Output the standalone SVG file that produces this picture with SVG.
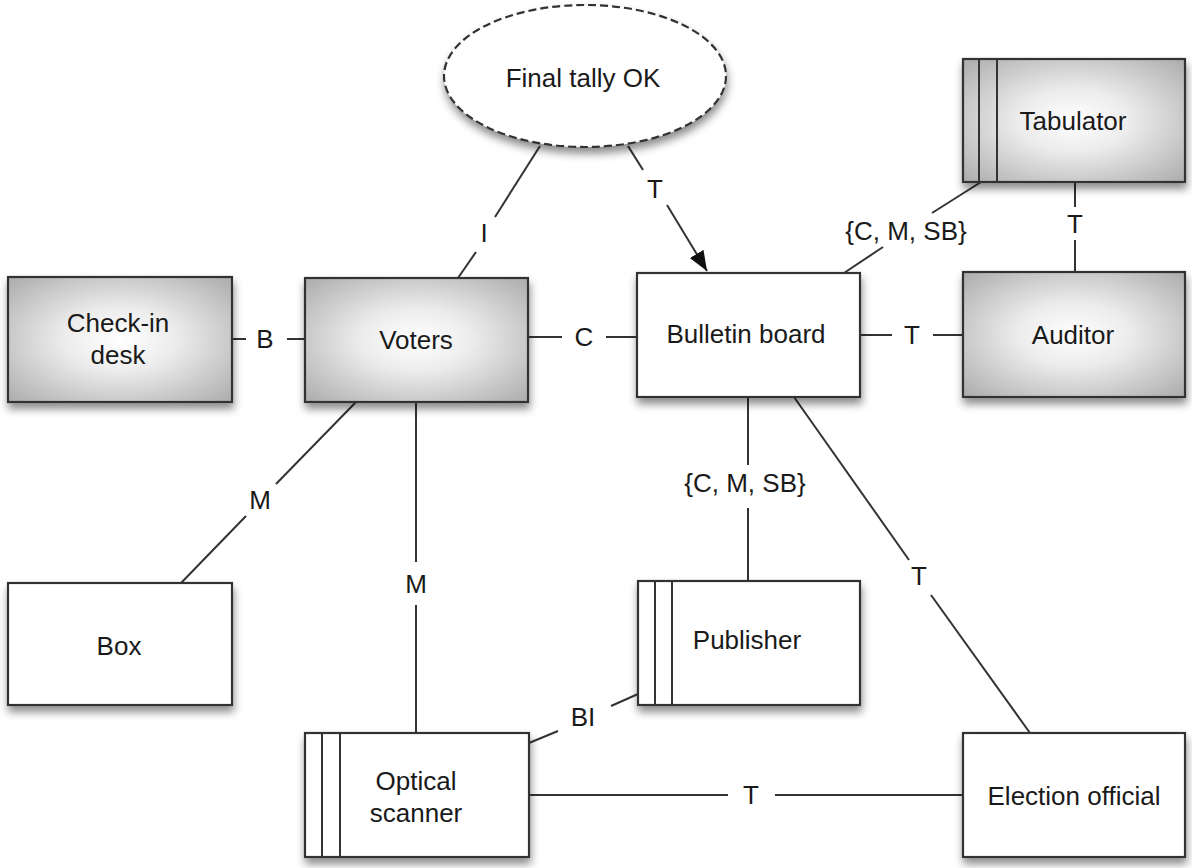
<svg xmlns="http://www.w3.org/2000/svg" width="1192" height="868" viewBox="0 0 1192 868">
<defs>
<style>
.box{stroke:#333;stroke-width:2.2;}
.plain{fill:#fff;}
.shade{fill:url(#grad);}
.stripe{stroke:#333;stroke-width:2;fill:none;}
.ln{stroke:#333;stroke-width:2;fill:none;}
.t{font-family:"Liberation Sans",Arial,Helvetica,sans-serif;font-size:26px;fill:#1a1a1a;text-anchor:middle;}
</style>
<radialGradient id="grad" cx="50%" cy="50%" r="72%">
<stop offset="0" stop-color="#ffffff"/>
<stop offset="0.35" stop-color="#ececec"/>
<stop offset="1" stop-color="#a9a9a9"/>
</radialGradient>
<filter id="sh" x="-20%" y="-20%" width="140%" height="150%">
<feDropShadow dx="1" dy="6" stdDeviation="4" flood-color="#000" flood-opacity="0.45"/>
</filter>
<marker id="arr" markerWidth="22" markerHeight="18" refX="20" refY="9" orient="auto" markerUnits="userSpaceOnUse">
<path d="M0,1 L20,9 L0,17 Z" fill="#111"/>
</marker>
</defs>
<rect width="1192" height="868" fill="#fff"/>

<g id="connectors">
<!-- I: ellipse - voters -->
<line class="ln" x1="540" y1="146" x2="495" y2="217"/>
<line class="ln" x1="476" y1="252" x2="458" y2="278"/>
<text class="t" x="484" y="242">I</text>
<!-- T arrow: ellipse - bulletin -->
<line class="ln" x1="628" y1="146" x2="643" y2="170"/>
<line class="ln" x1="667" y1="205" x2="707" y2="271" marker-end="url(#arr)"/>
<text class="t" x="655" y="198">T</text>
<!-- B -->
<line class="ln" x1="232" y1="339" x2="246" y2="339"/>
<line class="ln" x1="287" y1="339" x2="305" y2="339"/>
<text class="t" x="265" y="348">B</text>
<!-- C -->
<line class="ln" x1="528" y1="337" x2="562" y2="337"/>
<line class="ln" x1="606" y1="337" x2="637" y2="337"/>
<text class="t" x="584" y="346">C</text>
<!-- T bulletin - auditor -->
<line class="ln" x1="860" y1="335" x2="892" y2="335"/>
<line class="ln" x1="933" y1="335" x2="963" y2="335"/>
<text class="t" x="912" y="344">T</text>
<!-- T tabulator - auditor -->
<line class="ln" x1="1075" y1="182" x2="1075" y2="207"/>
<line class="ln" x1="1075" y1="240" x2="1075" y2="272"/>
<text class="t" x="1075" y="233">T</text>
<!-- {C, M, SB} tabulator - bulletin -->
<line class="ln" x1="981" y1="182" x2="932" y2="213"/>
<line class="ln" x1="883" y1="247" x2="844" y2="273"/>
<text class="t" x="906" y="240">{C, M, SB}</text>
<!-- M voters - box -->
<line class="ln" x1="356" y1="402" x2="276" y2="484"/>
<line class="ln" x1="246" y1="516" x2="181" y2="583"/>
<text class="t" x="260" y="509">M</text>
<!-- M voters - optical -->
<line class="ln" x1="416" y1="402" x2="416" y2="562"/>
<line class="ln" x1="416" y1="605" x2="416" y2="733"/>
<text class="t" x="416" y="593">M</text>
<!-- {C, M, SB} bulletin - publisher -->
<line class="ln" x1="748" y1="397" x2="748" y2="465"/>
<line class="ln" x1="748" y1="508" x2="748" y2="581"/>
<text class="t" x="745" y="492">{C, M, SB}</text>
<!-- T bulletin - election official -->
<line class="ln" x1="794" y1="397" x2="909" y2="560"/>
<line class="ln" x1="931" y1="595" x2="1030" y2="733"/>
<text class="t" x="919" y="585">T</text>
<!-- BI optical - publisher -->
<line class="ln" x1="529" y1="743" x2="558" y2="731"/>
<line class="ln" x1="611" y1="706" x2="638" y2="694"/>
<text class="t" x="583" y="726">BI</text>
<!-- T optical - election official -->
<line class="ln" x1="529" y1="795" x2="728" y2="795"/>
<line class="ln" x1="775" y1="795" x2="963" y2="795"/>
<text class="t" x="751" y="804">T</text>
</g>

<g id="final-tally-ok">
<ellipse cx="585" cy="76" rx="141" ry="71" fill="#fff" stroke="#333" stroke-width="2.2" stroke-dasharray="8,4" filter="url(#sh)"/>
<text class="t" x="583" y="87">Final tally OK</text>
</g>

<g id="tabulator">
<rect class="box shade" x="963" y="59" width="222" height="123" filter="url(#sh)"/>
<line class="stripe" x1="979" y1="59" x2="979" y2="182"/>
<line class="stripe" x1="997" y1="59" x2="997" y2="182"/>
<text class="t" x="1073" y="130">Tabulator</text>
</g>

<g id="auditor">
<rect class="box shade" x="963" y="272" width="222" height="125" filter="url(#sh)"/>
<text class="t" x="1073" y="344">Auditor</text>
</g>

<g id="check-in-desk">
<rect class="box shade" x="8" y="277" width="224" height="125" filter="url(#sh)"/>
<text class="t" x="118" y="332">Check-in</text>
<text class="t" x="118" y="364">desk</text>
</g>

<g id="voters">
<rect class="box shade" x="305" y="278" width="223" height="124" filter="url(#sh)"/>
<text class="t" x="416" y="349">Voters</text>
</g>

<g id="bulletin-board">
<rect class="box plain" x="637" y="273" width="223" height="124" filter="url(#sh)"/>
<text class="t" x="746" y="343">Bulletin board</text>
</g>

<g id="box">
<rect class="box plain" x="8" y="583" width="224" height="122" filter="url(#sh)"/>
<text class="t" x="119" y="655">Box</text>
</g>

<g id="publisher">
<rect class="box plain" x="638" y="581" width="222" height="124" filter="url(#sh)"/>
<line class="stripe" x1="655" y1="581" x2="655" y2="705"/>
<line class="stripe" x1="672" y1="581" x2="672" y2="705"/>
<text class="t" x="747" y="649">Publisher</text>
</g>

<g id="optical-scanner">
<rect class="box plain" x="305" y="733" width="224" height="124" filter="url(#sh)"/>
<line class="stripe" x1="322" y1="733" x2="322" y2="857"/>
<line class="stripe" x1="340" y1="733" x2="340" y2="857"/>
<text class="t" x="416" y="790">Optical</text>
<text class="t" x="416" y="822">scanner</text>
</g>

<g id="election-official">
<rect class="box plain" x="963" y="733" width="222" height="124" filter="url(#sh)"/>
<text class="t" x="1074" y="805">Election official</text>
</g>
</svg>
